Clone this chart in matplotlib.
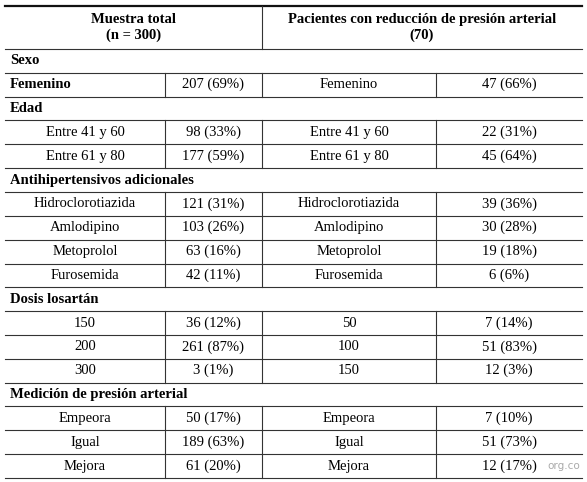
import matplotlib
matplotlib.use("Agg")
import matplotlib.pyplot as plt

header_left = ["Muestra total", "(n = 300)"]
header_right = ["Pacientes con reducción de presión arterial", "(70)"]
sections = [
    ("Sexo", [("Femenino", "207 (69%)", "Femenino", "47 (66%)")]),
    ("Edad", [("Entre 41 y 60", "98 (33%)", "Entre 41 y 60", "22 (31%)"),
              ("Entre 61 y 80", "177 (59%)", "Entre 61 y 80", "45 (64%)")]),
    ("Antihipertensivos adicionales", [
        ("Hidroclorotiazida", "121 (31%)", "Hidroclorotiazida", "39 (36%)"),
        ("Amlodipino", "103 (26%)", "Amlodipino", "30 (28%)"),
        ("Metoprolol", "63 (16%)", "Metoprolol", "19 (18%)"),
        ("Furosemida", "42 (11%)", "Furosemida", "6 (6%)")]),
    ("Dosis losartán", [("150", "36 (12%)", "50", "7 (14%)"),
                        ("200", "261 (87%)", "100", "51 (83%)"),
                        ("300", "3 (1%)", "150", "12 (3%)")]),
    ("Medición de presión arterial", [
        ("Empeora", "50 (17%)", "Empeora", "7 (10%)"),
        ("Igual", "189 (63%)", "Igual", "51 (73%)"),
        ("Mejora", "61 (20%)", "Mejora", "12 (17%)")]),
]

W, H = 587, 482
fig = plt.figure(figsize=(W/100, H/100), dpi=100)
ax = fig.add_axes([0, 0, 1, 1])
ax.set_xlim(0, W); ax.set_ylim(H, 0); ax.axis("off")
font = "Liberation Serif"
fs = 10.5
lc = "#333333"
x0, x1, x2, x3, x4 = 5, 165, 262, 436, 582
ytop, yh = 6, 49
rows = sum(1 + len(r) for _, r in sections)
rh = (478 - yh) / rows

ax.plot([x0, x4], [ytop, ytop], color="#111", lw=1.6)
ax.plot([x2, x2], [ytop, yh], color=lc, lw=0.8)
ax.text((x0+x2)/2, ytop+(yh-ytop)/2, "\n".join(header_left), ha="center", va="center",
        family=font, fontsize=fs, fontweight="bold", linespacing=1.15)
ax.text((x2+x4)/2, ytop+(yh-ytop)/2, "\n".join(header_right), ha="center", va="center",
        family=font, fontsize=fs, fontweight="bold", linespacing=1.15)
ax.plot([x0, x4], [yh, yh], color=lc, lw=0.8)

y = yh
first = True
for title, items in sections:
    ax.text(x0+5, y+rh/2, title, ha="left", va="center", family=font, fontsize=fs, fontweight="bold")
    y += rh
    ax.plot([x0, x4], [y, y], color=lc, lw=0.8)
    for a, b, c, d in items:
        yc = y + rh/2
        if first:
            ax.text(x0+5, yc, a, ha="left", va="center", family=font, fontsize=fs, fontweight="bold")
        else:
            ax.text((x0+x1)/2, yc, a, ha="center", va="center", family=font, fontsize=fs)
        ax.text((x1+x2)/2, yc, b, ha="center", va="center", family=font, fontsize=fs)
        ax.text((x2+x3)/2, yc, c, ha="center", va="center", family=font, fontsize=fs)
        ax.text((x3+x4)/2, yc, d, ha="center", va="center", family=font, fontsize=fs)
        for xv in (x1, x2, x3):
            ax.plot([xv, xv], [y, y+rh], color=lc, lw=0.8)
        y += rh
        ax.plot([x0, x4], [y, y], color=lc, lw=0.8)
    first = False

ax.text(580, 466, "org.co", ha="right", va="center", family="DejaVu Sans", fontsize=7.5, color="#aaaaaa")
fig.savefig("out.png", dpi=100, facecolor="white")
